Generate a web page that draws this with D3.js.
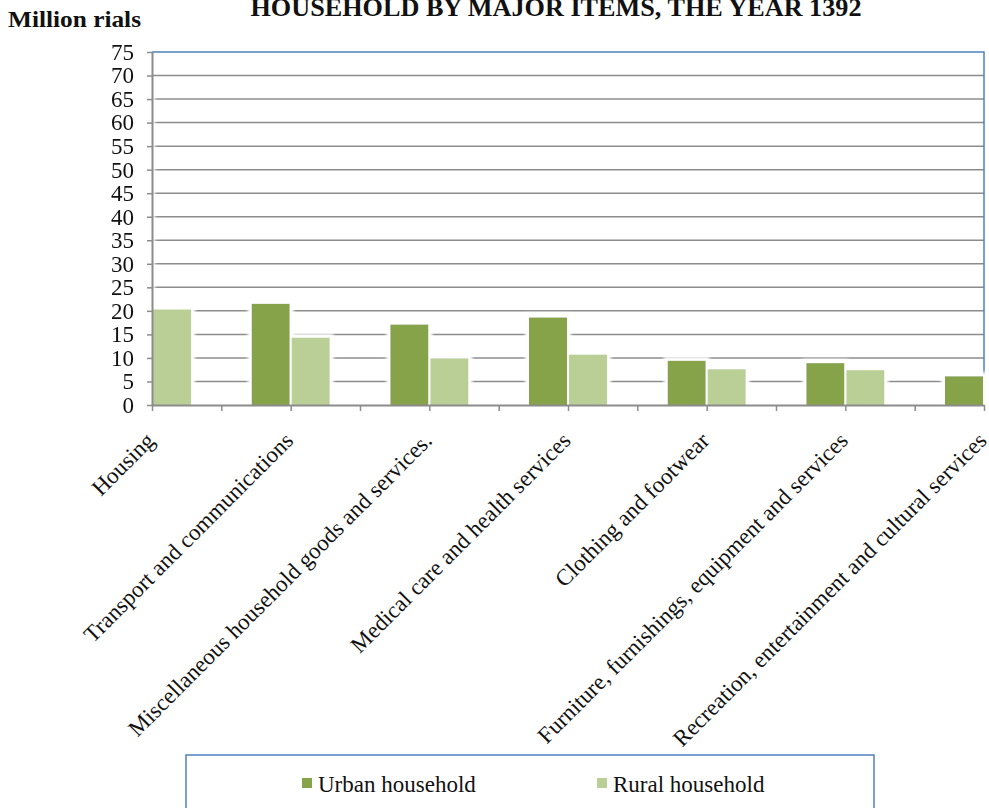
<!DOCTYPE html>
<html>
<head>
<meta charset="utf-8">
<script src="https://cdn.jsdelivr.net/npm/d3@7/dist/d3.min.js"></script>
<style>
  html, body { margin: 0; padding: 0; background: #fff; }
  svg { display: block; }
  svg text { font-family: "Liberation Serif", "Times New Roman", serif; }
</style>
</head>
<body>
<svg id="chart" width="989" height="808"></svg>
<script>
const categories = [
  "Housing",
  "Transport and communications",
  "Miscellaneous household goods and services.",
  "Medical care and health services",
  "Clothing and footwear",
  "Furniture, furnishings, equipment and services",
  "Recreation, entertainment and cultural services"
];
const seriesNames = ["Urban household", "Rural household"];
const urbanValues = [68.2, 21.5, 17.1, 18.6, 9.4, 8.9, 6.1];
const ruralValues = [20.3, 14.3, 9.9, 10.7, 7.6, 7.4, 5.0];
const yTickValues = [0, 5, 10, 15, 20, 25, 30, 35, 40, 45, 50, 55, 60, 65, 70, 75];
const titleText = "HOUSEHOLD BY MAJOR ITEMS, THE YEAR 1392";
const yUnitText = "Million rials";

(function () {
const FONT = "Liberation Serif, Times New Roman, serif";
const colors = { "Urban household": "#87a34a", "Rural household": "#b9cf96" };
const gridColor = "#8c8c8c";
const blue = "#4f81bd";

const svg = d3.select("#chart");
const pLeft = 152, pRight = 984, pTop = 52, pBottom = 405;

const y = d3.scaleLinear().domain([0, 75]).range([pBottom, pTop]);
const step = (pRight - pLeft) / (categories.length - 1);
const x0 = d3.scaleBand().domain(categories)
  .range([pLeft - step / 2, pRight + step / 2])
  .paddingInner(0.4375).paddingOuter(0.21875);
const x1 = d3.scaleBand().domain(seriesNames).range([0, x0.bandwidth()]).paddingInner(0.05);
const xi = d3.scaleLinear().domain([0, categories.length - 1]).range([pLeft, pRight]);
const center = c => x0(c) + x0.bandwidth() / 2;

const data = categories.map((c, i) => ({
  cat: c,
  vals: [
    { s: seriesNames[0], v: urbanValues[i] },
    { s: seriesNames[1], v: ruralValues[i] }
  ]
}));

const defs = svg.append("defs");
defs.append("clipPath").attr("id", "plotClip")
  .append("rect").attr("x", pLeft).attr("y", 0).attr("width", pRight - pLeft + 1).attr("height", pBottom + 2);
const f = defs.append("filter").attr("id", "glow")
  .attr("x", "-30%").attr("y", "-30%").attr("width", "160%").attr("height", "160%");
f.append("feMorphology").attr("operator", "dilate").attr("radius", 4).attr("in", "SourceAlpha").attr("result", "d");
f.append("feGaussianBlur").attr("in", "d").attr("stdDeviation", 1.5).attr("result", "b");
f.append("feFlood").attr("flood-color", "#ffffff").attr("result", "w");
f.append("feComposite").attr("in", "w").attr("in2", "b").attr("operator", "in").attr("result", "g");
const fm = f.append("feMerge");
fm.append("feMergeNode").attr("in", "g");
fm.append("feMergeNode").attr("in", "SourceGraphic");

svg.append("text").attr("x", 556).attr("y", 16).attr("text-anchor", "middle")
  .attr("font-family", FONT)
  .attr("font-size", 26).attr("font-weight", "bold").attr("fill", "#111")
  .attr("textLength", 611).attr("lengthAdjust", "spacingAndGlyphs")
  .text(titleText);
svg.append("text").attr("x", 8).attr("y", 27)
  .attr("font-family", FONT)
  .attr("font-size", 24).attr("font-weight", "bold").attr("fill", "#111")
  .attr("textLength", 133).attr("lengthAdjust", "spacingAndGlyphs")
  .text(yUnitText);

svg.append("g").selectAll("line").data(yTickValues.filter(v => v > 0 && v < 75)).join("line")
  .attr("x1", pLeft).attr("x2", pRight)
  .attr("y1", d => y(d)).attr("y2", d => y(d))
  .attr("stroke", gridColor).attr("stroke-width", 1.5);

svg.append("line").attr("x1", pLeft).attr("x2", pRight + 0.5).attr("y1", y(75)).attr("y2", y(75))
  .attr("stroke", blue).attr("stroke-width", 1.5);
svg.append("line").attr("x1", pRight).attr("x2", pRight).attr("y1", y(75)).attr("y2", pBottom)
  .attr("stroke", blue).attr("stroke-width", 1.5);

const barsOuter = svg.append("g").attr("clip-path", "url(#plotClip)");
const bars = barsOuter.append("g").attr("filter", "url(#glow)");
bars.selectAll("g.grp").data(data).join("g").attr("class", "grp")
  .attr("transform", d => `translate(${x0(d.cat)},0)`)
  .selectAll("rect").data(d => d.vals).join("rect")
  .attr("x", d => x1(d.s))
  .attr("width", x1.bandwidth())
  .attr("y", d => y(d.v))
  .attr("height", d => y(0) - y(d.v))
  .attr("fill", d => colors[d.s]);

const yAxis = d3.axisLeft(y).tickValues(yTickValues).tickSize(5).tickPadding(13).tickSizeOuter(0);
const gy = svg.append("g").attr("transform", `translate(${pLeft},0)`).call(yAxis)
  .attr("font-family", FONT).attr("font-size", 23);
gy.select(".domain").attr("stroke", gridColor).attr("stroke-width", 2);
gy.selectAll(".tick line").attr("stroke", gridColor).attr("stroke-width", 1.5);
gy.selectAll(".tick text").attr("font-size", 23).attr("fill", "#111").attr("font-family", FONT);

const xTicks = d3.range(0, categories.length - 0.99, 0.5);
const xAxis = d3.axisBottom(xi).tickValues(xTicks).tickSize(6).tickSizeOuter(0).tickFormat("");
const gx = svg.append("g").attr("transform", `translate(0,${pBottom})`).call(xAxis);
gx.select(".domain").attr("stroke", gridColor).attr("stroke-width", 2);
gx.selectAll(".tick line").attr("stroke", gridColor).attr("stroke-width", 1.5);

svg.append("g").selectAll("text").data(categories).join("text")
  .attr("transform", c => `translate(${center(c) + 4},${pBottom + 37}) rotate(-45)`)
  .attr("text-anchor", "end")
  .attr("font-family", FONT)
  .attr("font-size", 23).attr("fill", "#111")
  .text(c => c);

const lg = svg.append("g");
lg.append("rect").attr("x", 186).attr("y", 755).attr("width", 688).attr("height", 90)
  .attr("fill", "#fff").attr("stroke", blue).attr("stroke-width", 1.5);
const legendX = [302, 597];
seriesNames.forEach((s, i) => {
  lg.append("rect").attr("x", legendX[i]).attr("y", 778).attr("width", 10).attr("height", 10)
    .attr("fill", colors[s]);
  lg.append("text").attr("x", legendX[i] + 16).attr("y", 792)
    .attr("font-family", FONT)
    .attr("font-size", 23).attr("fill", "#111").text(s);
});
})();
</script>
</body>
</html>
